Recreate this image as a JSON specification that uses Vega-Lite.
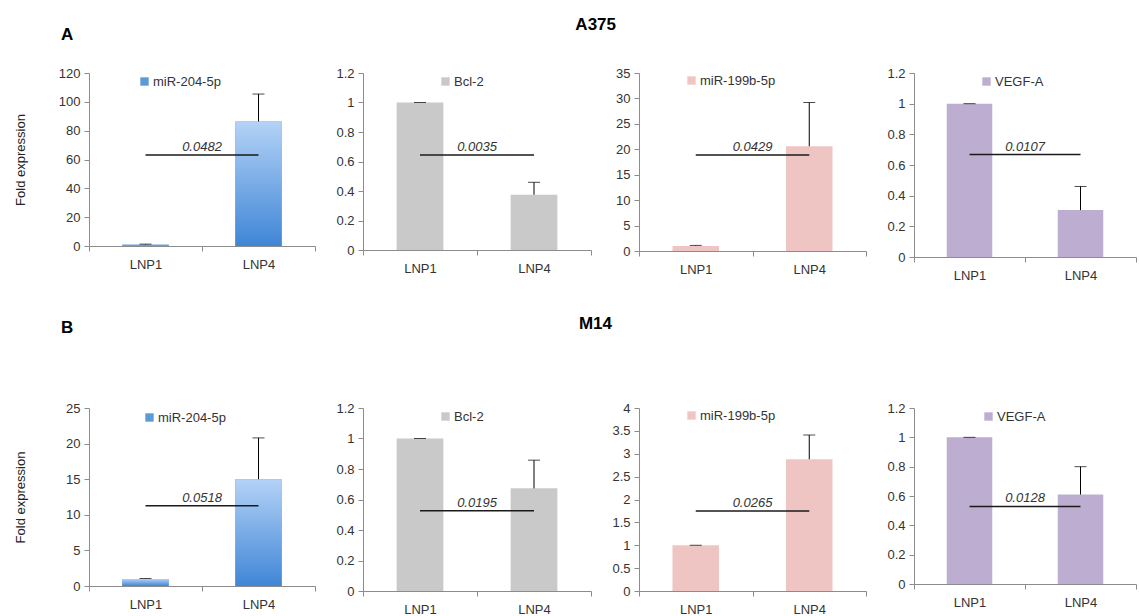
{
  "$schema": "https://vega.github.io/schema/vega-lite/v6.json",
  "padding": {"left": 14, "top": 16, "right": 0, "bottom": 0},
  "autosize": {"type": "pad"},
  "background": "white",
  "config": {
    "view": {"stroke": null},
    "font": "Liberation Sans",
    "axis": {"domainColor": "#8c8c8c", "tickColor": "#8c8c8c", "labelColor": "#333333", "labelFont": "Liberation Sans", "labelFontSize": 13, "grid": false, "tickSize": 5, "labelPadding": 4, "titleFont": "Liberation Sans", "titleFontSize": 13, "titleFontWeight": "normal", "titleColor": "#222222", "labelOverlap": false},
    "axisX": {"labelAngle": 0, "tickBand": "extent", "labelPadding": 7, "title": null},
    "axisY": {"minExtent": 32, "maxExtent": 32, "labelOverlap": false, "tickCount": 50},
    "legend": {"orient": "none", "title": null, "symbolType": "square", "symbolSize": 70, "symbolStrokeWidth": 0, "labelFont": "Liberation Sans", "labelFontSize": 13, "labelColor": "#333333", "labelOffset": 2},
    "title": {"font": "Liberation Sans", "fontSize": 17, "fontWeight": "bold", "color": "#000000"}
  },
  "datasets": {
    "bars": [
      {"panel": "A1", "gene": "miR-204-5p", "cond": "LNP1", "value": 1.0, "upper": 1.3},
      {"panel": "A1", "gene": "miR-204-5p", "cond": "LNP4", "value": 86.4, "upper": 105.4},
      {"panel": "A2", "gene": "Bcl-2", "cond": "LNP1", "value": 1.0, "upper": 1.0},
      {"panel": "A2", "gene": "Bcl-2", "cond": "LNP4", "value": 0.375, "upper": 0.459},
      {"panel": "A3", "gene": "miR-199b-5p", "cond": "LNP1", "value": 1.0, "upper": 1.1},
      {"panel": "A3", "gene": "miR-199b-5p", "cond": "LNP4", "value": 20.6, "upper": 29.2},
      {"panel": "A4", "gene": "VEGF-A", "cond": "LNP1", "value": 1.0, "upper": 1.0},
      {"panel": "A4", "gene": "VEGF-A", "cond": "LNP4", "value": 0.306, "upper": 0.46},
      {"panel": "B1", "gene": "miR-204-5p", "cond": "LNP1", "value": 1.0, "upper": 1.05},
      {"panel": "B1", "gene": "miR-204-5p", "cond": "LNP4", "value": 15.0, "upper": 20.8},
      {"panel": "B2", "gene": "Bcl-2", "cond": "LNP1", "value": 1.0, "upper": 1.0},
      {"panel": "B2", "gene": "Bcl-2", "cond": "LNP4", "value": 0.673, "upper": 0.858},
      {"panel": "B3", "gene": "miR-199b-5p", "cond": "LNP1", "value": 1.0, "upper": 1.0},
      {"panel": "B3", "gene": "miR-199b-5p", "cond": "LNP4", "value": 2.88, "upper": 3.41},
      {"panel": "B4", "gene": "VEGF-A", "cond": "LNP1", "value": 1.0, "upper": 1.0},
      {"panel": "B4", "gene": "VEGF-A", "cond": "LNP4", "value": 0.61, "upper": 0.80}
    ],
    "sig": [
      {"panel": "A1", "from": "LNP1", "to": "LNP4", "y": 63.2, "p": "0.0482"},
      {"panel": "A2", "from": "LNP1", "to": "LNP4", "y": 0.644, "p": "0.0035"},
      {"panel": "A3", "from": "LNP1", "to": "LNP4", "y": 18.9, "p": "0.0429"},
      {"panel": "A4", "from": "LNP1", "to": "LNP4", "y": 0.668, "p": "0.0107"},
      {"panel": "B1", "from": "LNP1", "to": "LNP4", "y": 11.26, "p": "0.0518"},
      {"panel": "B2", "from": "LNP1", "to": "LNP4", "y": 0.526, "p": "0.0195"},
      {"panel": "B3", "from": "LNP1", "to": "LNP4", "y": 1.75, "p": "0.0265"},
      {"panel": "B4", "from": "LNP1", "to": "LNP4", "y": 0.529, "p": "0.0128"}
    ]
  },
  "spacing": 33,
  "resolve": {"scale": {"x": "independent", "y": "independent", "color": "independent"}, "legend": {"color": "independent"}},
  "vconcat": [
    {
      "spacing": 48,
      "bounds": "flush",
      "resolve": {"scale": {"x": "independent", "y": "independent", "color": "independent"}, "legend": {"color": "independent"}},
      "hconcat": [
        {
          "width": 226, "height": 173,
          "title": {"text": "A", "anchor": "start", "frame": "group", "dx": -28, "offset": 23},
          "layer": [
            {"data": {"name": "bars"}, "transform": [{"filter": "datum.panel == 'A1'"}],
             "mark": {"type": "bar", "width": {"band": 0.41}},
             "encoding": {
               "x": {"field": "cond", "type": "nominal", "scale": {"domain": ["LNP1", "LNP4"], "paddingInner": 0, "paddingOuter": 0}},
               "y": {"field": "value", "type": "quantitative", "scale": {"domain": [0, 120], "nice": false}, "axis": {"values": [0, 20, 40, 60, 80, 100, 120], "tickCount": 50, "labelOverlap": false, "labelExpr": "format(datum.value, '~g')", "title": "Fold expression", "titlePadding": 30}},
               "color": {"field": "gene", "type": "nominal", "scale": {"range": ["#5b9bd5"]}, "legend": {"legendX": 49, "legendY": 2}}
             }},
            {"data": {"name": "bars"}, "transform": [{"filter": "datum.panel == 'A1'"}],
             "mark": {"type": "bar", "width": {"band": 0.41}, "color": {"gradient": "linear", "x1": 0, "y1": 0, "x2": 0, "y2": 1, "stops": [{"offset": 0, "color": "#b4d2f7"}, {"offset": 1, "color": "#3f86d6"}]}},
             "encoding": {
               "x": {"field": "cond", "type": "nominal"},
               "y": {"field": "value", "type": "quantitative"}
             }},
            {"data": {"name": "bars"}, "transform": [{"filter": "datum.panel == 'A1'"}],
             "mark": {"type": "rule", "color": "#000000", "strokeWidth": 1},
             "encoding": {"x": {"field": "cond", "type": "nominal"}, "y": {"field": "value", "type": "quantitative"}, "y2": {"field": "upper"}}},
            {"data": {"name": "bars"}, "transform": [{"filter": "datum.panel == 'A1'"}],
             "mark": {"type": "tick", "color": "#000000", "size": 12, "thickness": 1},
             "encoding": {"x": {"field": "cond", "type": "nominal"}, "y": {"field": "upper", "type": "quantitative"}}},
            {"data": {"name": "sig"}, "transform": [{"filter": "datum.panel == 'A1'"}, {"fold": ["from", "to"], "as": ["k", "pos"]}],
             "mark": {"type": "line", "color": "#1a1a1a", "strokeWidth": 1.5},
             "encoding": {"x": {"field": "pos", "type": "nominal"}, "y": {"field": "y", "type": "quantitative"}}},
            {"data": {"name": "sig"}, "transform": [{"filter": "datum.panel == 'A1'"}],
             "mark": {"type": "text", "fontStyle": "italic", "fontSize": 13, "baseline": "bottom", "dy": -1, "color": "#333333"},
             "encoding": {"x": {"field": "from", "type": "nominal", "bandPosition": 1}, "y": {"field": "y", "type": "quantitative"}, "text": {"field": "p"}}}
          ]
        },
        {
          "width": 228, "height": 177,
          "title": {"text": "A375", "anchor": "end", "frame": "group", "dx": 25, "offset": 33},
          "layer": [
            {"data": {"name": "bars"}, "transform": [{"filter": "datum.panel == 'A2'"}],
             "mark": {"type": "bar", "width": {"band": 0.41}},
             "encoding": {
               "x": {"field": "cond", "type": "nominal", "scale": {"domain": ["LNP1", "LNP4"], "paddingInner": 0, "paddingOuter": 0}},
               "y": {"field": "value", "type": "quantitative", "scale": {"domain": [0, 1.2], "nice": false}, "axis": {"values": [0, 0.2, 0.4, 0.6, 0.8, 1, 1.2], "tickCount": 50, "labelOverlap": false, "labelExpr": "format(datum.value, '~g')", "title": null}},
               "color": {"field": "gene", "type": "nominal", "scale": {"range": ["#c9c9c9"]}, "legend": {"legendX": 76, "legendY": 2}}
             }},
            {"data": {"name": "bars"}, "transform": [{"filter": "datum.panel == 'A2'"}],
             "mark": {"type": "rule", "color": "#000000", "strokeWidth": 1},
             "encoding": {"x": {"field": "cond", "type": "nominal"}, "y": {"field": "value", "type": "quantitative"}, "y2": {"field": "upper"}}},
            {"data": {"name": "bars"}, "transform": [{"filter": "datum.panel == 'A2'"}],
             "mark": {"type": "tick", "color": "#000000", "size": 12, "thickness": 1},
             "encoding": {"x": {"field": "cond", "type": "nominal"}, "y": {"field": "upper", "type": "quantitative"}}},
            {"data": {"name": "sig"}, "transform": [{"filter": "datum.panel == 'A2'"}, {"fold": ["from", "to"], "as": ["k", "pos"]}],
             "mark": {"type": "line", "color": "#1a1a1a", "strokeWidth": 1.5},
             "encoding": {"x": {"field": "pos", "type": "nominal"}, "y": {"field": "y", "type": "quantitative"}}},
            {"data": {"name": "sig"}, "transform": [{"filter": "datum.panel == 'A2'"}],
             "mark": {"type": "text", "fontStyle": "italic", "fontSize": 13, "baseline": "bottom", "dy": -1, "color": "#333333"},
             "encoding": {"x": {"field": "from", "type": "nominal", "bandPosition": 1}, "y": {"field": "y", "type": "quantitative"}, "text": {"field": "p"}}}
          ]
        },
        {
          "width": 227, "height": 178,
          "layer": [
            {"data": {"name": "bars"}, "transform": [{"filter": "datum.panel == 'A3'"}],
             "mark": {"type": "bar", "width": {"band": 0.41}},
             "encoding": {
               "x": {"field": "cond", "type": "nominal", "scale": {"domain": ["LNP1", "LNP4"], "paddingInner": 0, "paddingOuter": 0}},
               "y": {"field": "value", "type": "quantitative", "scale": {"domain": [0, 35], "nice": false}, "axis": {"values": [0, 5, 10, 15, 20, 25, 30, 35], "tickCount": 50, "labelOverlap": false, "labelExpr": "format(datum.value, '~g')", "title": null}},
               "color": {"field": "gene", "type": "nominal", "scale": {"range": ["#efc5c4"]}, "legend": {"legendX": 46, "legendY": 1}}
             }},
            {"data": {"name": "bars"}, "transform": [{"filter": "datum.panel == 'A3'"}],
             "mark": {"type": "rule", "color": "#000000", "strokeWidth": 1},
             "encoding": {"x": {"field": "cond", "type": "nominal"}, "y": {"field": "value", "type": "quantitative"}, "y2": {"field": "upper"}}},
            {"data": {"name": "bars"}, "transform": [{"filter": "datum.panel == 'A3'"}],
             "mark": {"type": "tick", "color": "#000000", "size": 12, "thickness": 1},
             "encoding": {"x": {"field": "cond", "type": "nominal"}, "y": {"field": "upper", "type": "quantitative"}}},
            {"data": {"name": "sig"}, "transform": [{"filter": "datum.panel == 'A3'"}, {"fold": ["from", "to"], "as": ["k", "pos"]}],
             "mark": {"type": "line", "color": "#1a1a1a", "strokeWidth": 1.5},
             "encoding": {"x": {"field": "pos", "type": "nominal"}, "y": {"field": "y", "type": "quantitative"}}},
            {"data": {"name": "sig"}, "transform": [{"filter": "datum.panel == 'A3'"}],
             "mark": {"type": "text", "fontStyle": "italic", "fontSize": 13, "baseline": "bottom", "dy": -1, "color": "#333333"},
             "encoding": {"x": {"field": "from", "type": "nominal", "bandPosition": 1}, "y": {"field": "y", "type": "quantitative"}, "text": {"field": "p"}}}
          ]
        },
        {
          "width": 222, "height": 184,
          "layer": [
            {"data": {"name": "bars"}, "transform": [{"filter": "datum.panel == 'A4'"}],
             "mark": {"type": "bar", "width": {"band": 0.41}},
             "encoding": {
               "x": {"field": "cond", "type": "nominal", "scale": {"domain": ["LNP1", "LNP4"], "paddingInner": 0, "paddingOuter": 0}},
               "y": {"field": "value", "type": "quantitative", "scale": {"domain": [0, 1.2], "nice": false}, "axis": {"values": [0, 0.2, 0.4, 0.6, 0.8, 1, 1.2], "tickCount": 50, "labelOverlap": false, "labelExpr": "format(datum.value, '~g')", "title": null}},
               "color": {"field": "gene", "type": "nominal", "scale": {"range": ["#bdadd1"]}, "legend": {"legendX": 66, "legendY": 2}}
             }},
            {"data": {"name": "bars"}, "transform": [{"filter": "datum.panel == 'A4'"}],
             "mark": {"type": "rule", "color": "#000000", "strokeWidth": 1},
             "encoding": {"x": {"field": "cond", "type": "nominal"}, "y": {"field": "value", "type": "quantitative"}, "y2": {"field": "upper"}}},
            {"data": {"name": "bars"}, "transform": [{"filter": "datum.panel == 'A4'"}],
             "mark": {"type": "tick", "color": "#000000", "size": 12, "thickness": 1},
             "encoding": {"x": {"field": "cond", "type": "nominal"}, "y": {"field": "upper", "type": "quantitative"}}},
            {"data": {"name": "sig"}, "transform": [{"filter": "datum.panel == 'A4'"}, {"fold": ["from", "to"], "as": ["k", "pos"]}],
             "mark": {"type": "line", "color": "#1a1a1a", "strokeWidth": 1.5},
             "encoding": {"x": {"field": "pos", "type": "nominal"}, "y": {"field": "y", "type": "quantitative"}}},
            {"data": {"name": "sig"}, "transform": [{"filter": "datum.panel == 'A4'"}],
             "mark": {"type": "text", "fontStyle": "italic", "fontSize": 13, "baseline": "bottom", "dy": -1, "color": "#333333"},
             "encoding": {"x": {"field": "from", "type": "nominal", "bandPosition": 1}, "y": {"field": "y", "type": "quantitative"}, "text": {"field": "p"}}}
          ]
        }
      ]
    },
    {
      "spacing": 48,
      "bounds": "flush",
      "resolve": {"scale": {"x": "independent", "y": "independent", "color": "independent"}, "legend": {"color": "independent"}},
      "hconcat": [
        {
          "width": 226, "height": 178,
          "title": {"text": "B", "anchor": "start", "frame": "group", "dx": -28, "offset": 65},
          "layer": [
            {"data": {"name": "bars"}, "transform": [{"filter": "datum.panel == 'B1'"}],
             "mark": {"type": "bar", "width": {"band": 0.41}},
             "encoding": {
               "x": {"field": "cond", "type": "nominal", "scale": {"domain": ["LNP1", "LNP4"], "paddingInner": 0, "paddingOuter": 0}},
               "y": {"field": "value", "type": "quantitative", "scale": {"domain": [0, 25], "nice": false}, "axis": {"values": [0, 5, 10, 15, 20, 25], "tickCount": 50, "labelOverlap": false, "labelExpr": "format(datum.value, '~g')", "title": "Fold expression", "titlePadding": 30}},
               "color": {"field": "gene", "type": "nominal", "scale": {"range": ["#5b9bd5"]}, "legend": {"legendX": 54, "legendY": 3}}
             }},
            {"data": {"name": "bars"}, "transform": [{"filter": "datum.panel == 'B1'"}],
             "mark": {"type": "bar", "width": {"band": 0.41}, "color": {"gradient": "linear", "x1": 0, "y1": 0, "x2": 0, "y2": 1, "stops": [{"offset": 0, "color": "#b4d2f7"}, {"offset": 1, "color": "#3f86d6"}]}},
             "encoding": {
               "x": {"field": "cond", "type": "nominal"},
               "y": {"field": "value", "type": "quantitative"}
             }},
            {"data": {"name": "bars"}, "transform": [{"filter": "datum.panel == 'B1'"}],
             "mark": {"type": "rule", "color": "#000000", "strokeWidth": 1},
             "encoding": {"x": {"field": "cond", "type": "nominal"}, "y": {"field": "value", "type": "quantitative"}, "y2": {"field": "upper"}}},
            {"data": {"name": "bars"}, "transform": [{"filter": "datum.panel == 'B1'"}],
             "mark": {"type": "tick", "color": "#000000", "size": 12, "thickness": 1},
             "encoding": {"x": {"field": "cond", "type": "nominal"}, "y": {"field": "upper", "type": "quantitative"}}},
            {"data": {"name": "sig"}, "transform": [{"filter": "datum.panel == 'B1'"}, {"fold": ["from", "to"], "as": ["k", "pos"]}],
             "mark": {"type": "line", "color": "#1a1a1a", "strokeWidth": 1.5},
             "encoding": {"x": {"field": "pos", "type": "nominal"}, "y": {"field": "y", "type": "quantitative"}}},
            {"data": {"name": "sig"}, "transform": [{"filter": "datum.panel == 'B1'"}],
             "mark": {"type": "text", "fontStyle": "italic", "fontSize": 13, "baseline": "bottom", "dy": -1, "color": "#333333"},
             "encoding": {"x": {"field": "from", "type": "nominal", "bandPosition": 1}, "y": {"field": "y", "type": "quantitative"}, "text": {"field": "p"}}}
          ]
        },
        {
          "width": 228, "height": 183,
          "title": {"text": "M14", "anchor": "end", "frame": "group", "dx": 21, "offset": 69},
          "layer": [
            {"data": {"name": "bars"}, "transform": [{"filter": "datum.panel == 'B2'"}],
             "mark": {"type": "bar", "width": {"band": 0.41}},
             "encoding": {
               "x": {"field": "cond", "type": "nominal", "scale": {"domain": ["LNP1", "LNP4"], "paddingInner": 0, "paddingOuter": 0}},
               "y": {"field": "value", "type": "quantitative", "scale": {"domain": [0, 1.2], "nice": false}, "axis": {"values": [0, 0.2, 0.4, 0.6, 0.8, 1, 1.2], "tickCount": 50, "labelOverlap": false, "labelExpr": "format(datum.value, '~g')", "title": null}},
               "color": {"field": "gene", "type": "nominal", "scale": {"range": ["#c9c9c9"]}, "legend": {"legendX": 76, "legendY": 2}}
             }},
            {"data": {"name": "bars"}, "transform": [{"filter": "datum.panel == 'B2'"}],
             "mark": {"type": "rule", "color": "#000000", "strokeWidth": 1},
             "encoding": {"x": {"field": "cond", "type": "nominal"}, "y": {"field": "value", "type": "quantitative"}, "y2": {"field": "upper"}}},
            {"data": {"name": "bars"}, "transform": [{"filter": "datum.panel == 'B2'"}],
             "mark": {"type": "tick", "color": "#000000", "size": 12, "thickness": 1},
             "encoding": {"x": {"field": "cond", "type": "nominal"}, "y": {"field": "upper", "type": "quantitative"}}},
            {"data": {"name": "sig"}, "transform": [{"filter": "datum.panel == 'B2'"}, {"fold": ["from", "to"], "as": ["k", "pos"]}],
             "mark": {"type": "line", "color": "#1a1a1a", "strokeWidth": 1.5},
             "encoding": {"x": {"field": "pos", "type": "nominal"}, "y": {"field": "y", "type": "quantitative"}}},
            {"data": {"name": "sig"}, "transform": [{"filter": "datum.panel == 'B2'"}],
             "mark": {"type": "text", "fontStyle": "italic", "fontSize": 13, "baseline": "bottom", "dy": -1, "color": "#333333"},
             "encoding": {"x": {"field": "from", "type": "nominal", "bandPosition": 1}, "y": {"field": "y", "type": "quantitative"}, "text": {"field": "p"}}}
          ]
        },
        {
          "width": 227, "height": 183,
          "layer": [
            {"data": {"name": "bars"}, "transform": [{"filter": "datum.panel == 'B3'"}],
             "mark": {"type": "bar", "width": {"band": 0.41}},
             "encoding": {
               "x": {"field": "cond", "type": "nominal", "scale": {"domain": ["LNP1", "LNP4"], "paddingInner": 0, "paddingOuter": 0}},
               "y": {"field": "value", "type": "quantitative", "scale": {"domain": [0, 4], "nice": false}, "axis": {"values": [0, 0.5, 1, 1.5, 2, 2.5, 3, 3.5, 4], "tickCount": 50, "labelOverlap": false, "labelExpr": "format(datum.value, '~g')", "title": null}},
               "color": {"field": "gene", "type": "nominal", "scale": {"range": ["#efc5c4"]}, "legend": {"legendX": 46, "legendY": 1}}
             }},
            {"data": {"name": "bars"}, "transform": [{"filter": "datum.panel == 'B3'"}],
             "mark": {"type": "rule", "color": "#000000", "strokeWidth": 1},
             "encoding": {"x": {"field": "cond", "type": "nominal"}, "y": {"field": "value", "type": "quantitative"}, "y2": {"field": "upper"}}},
            {"data": {"name": "bars"}, "transform": [{"filter": "datum.panel == 'B3'"}],
             "mark": {"type": "tick", "color": "#000000", "size": 12, "thickness": 1},
             "encoding": {"x": {"field": "cond", "type": "nominal"}, "y": {"field": "upper", "type": "quantitative"}}},
            {"data": {"name": "sig"}, "transform": [{"filter": "datum.panel == 'B3'"}, {"fold": ["from", "to"], "as": ["k", "pos"]}],
             "mark": {"type": "line", "color": "#1a1a1a", "strokeWidth": 1.5},
             "encoding": {"x": {"field": "pos", "type": "nominal"}, "y": {"field": "y", "type": "quantitative"}}},
            {"data": {"name": "sig"}, "transform": [{"filter": "datum.panel == 'B3'"}],
             "mark": {"type": "text", "fontStyle": "italic", "fontSize": 13, "baseline": "bottom", "dy": -1, "color": "#333333"},
             "encoding": {"x": {"field": "from", "type": "nominal", "bandPosition": 1}, "y": {"field": "y", "type": "quantitative"}, "text": {"field": "p"}}}
          ]
        },
        {
          "width": 222, "height": 176,
          "layer": [
            {"data": {"name": "bars"}, "transform": [{"filter": "datum.panel == 'B4'"}],
             "mark": {"type": "bar", "width": {"band": 0.41}},
             "encoding": {
               "x": {"field": "cond", "type": "nominal", "scale": {"domain": ["LNP1", "LNP4"], "paddingInner": 0, "paddingOuter": 0}},
               "y": {"field": "value", "type": "quantitative", "scale": {"domain": [0, 1.2], "nice": false}, "axis": {"values": [0, 0.2, 0.4, 0.6, 0.8, 1, 1.2], "tickCount": 50, "labelOverlap": false, "labelExpr": "format(datum.value, '~g')", "title": null}},
               "color": {"field": "gene", "type": "nominal", "scale": {"range": ["#bdadd1"]}, "legend": {"legendX": 68, "legendY": 2}}
             }},
            {"data": {"name": "bars"}, "transform": [{"filter": "datum.panel == 'B4'"}],
             "mark": {"type": "rule", "color": "#000000", "strokeWidth": 1},
             "encoding": {"x": {"field": "cond", "type": "nominal"}, "y": {"field": "value", "type": "quantitative"}, "y2": {"field": "upper"}}},
            {"data": {"name": "bars"}, "transform": [{"filter": "datum.panel == 'B4'"}],
             "mark": {"type": "tick", "color": "#000000", "size": 12, "thickness": 1},
             "encoding": {"x": {"field": "cond", "type": "nominal"}, "y": {"field": "upper", "type": "quantitative"}}},
            {"data": {"name": "sig"}, "transform": [{"filter": "datum.panel == 'B4'"}, {"fold": ["from", "to"], "as": ["k", "pos"]}],
             "mark": {"type": "line", "color": "#1a1a1a", "strokeWidth": 1.5},
             "encoding": {"x": {"field": "pos", "type": "nominal"}, "y": {"field": "y", "type": "quantitative"}}},
            {"data": {"name": "sig"}, "transform": [{"filter": "datum.panel == 'B4'"}],
             "mark": {"type": "text", "fontStyle": "italic", "fontSize": 13, "baseline": "bottom", "dy": -1, "color": "#333333"},
             "encoding": {"x": {"field": "from", "type": "nominal", "bandPosition": 1}, "y": {"field": "y", "type": "quantitative"}, "text": {"field": "p"}}}
          ]
        }
      ]
    }
  ]
}
